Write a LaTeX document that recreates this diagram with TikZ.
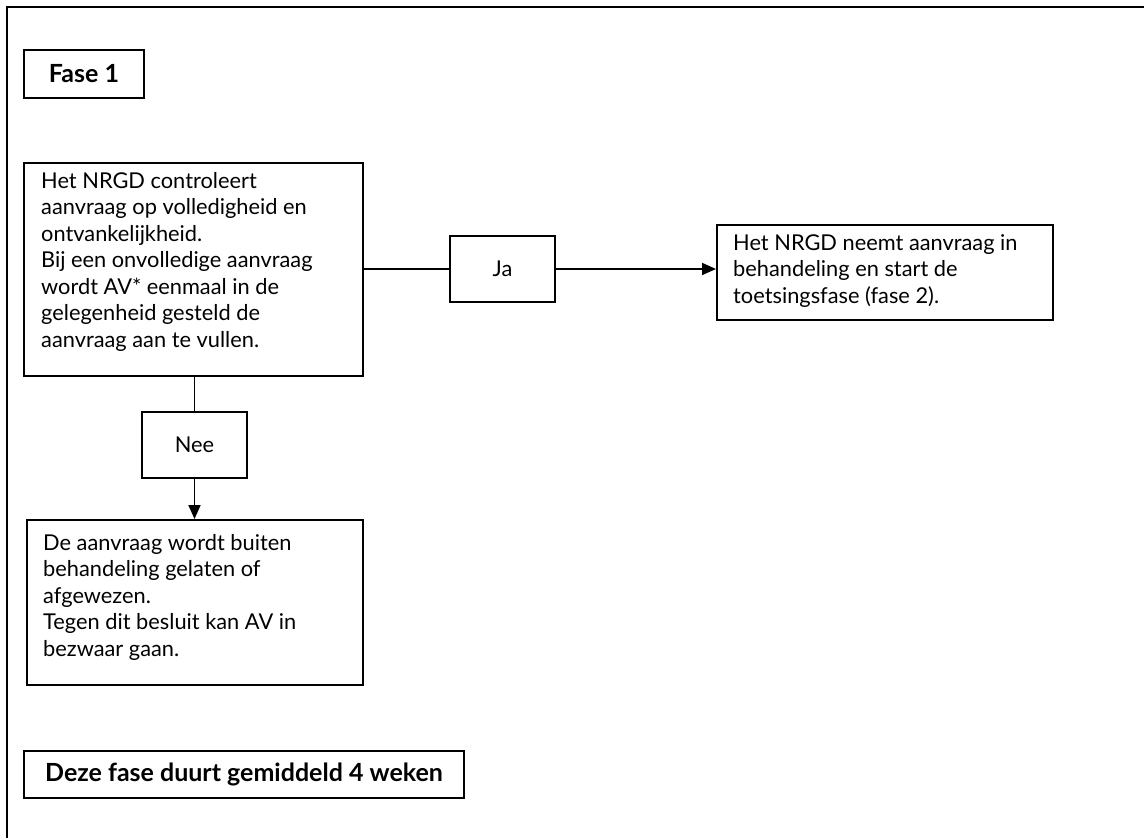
\documentclass[tikz,border=0pt]{standalone}
\usepackage{fontspec}
\setmainfont{Lato}
\usetikzlibrary{arrows.meta,calc}
\begin{document}
\begin{tikzpicture}[x=1pt,y=-1pt,
  box/.style={draw, line width=2pt, inner sep=0pt, rectangle},
  txt/.style={anchor=north west, align=left, inner sep=0pt, font=\fontsize{21.8}{26.5}\selectfont},
  lbl/.style={font=\fontsize{21.8}{26}\selectfont},
  bold/.style={font=\fontsize{25}{29}\selectfont\bfseries},
  conn/.style={line width=1.7pt},
  arr/.style={conn, -{Triangle[length=14pt,width=12pt]}}]
\useasboundingbox (0,0) rectangle (1144,838);
\coordinate (fbl) at (7,838);
\coordinate (ftl) at (7,7);
\coordinate (ftr) at (1144,7);
\draw[line width=2.5pt] (fbl) -- (ftl) -- (ftr);

\node[box, bold, minimum width=120, minimum height=48] (fase) at (84,74) {Fase 1};
\node[box, minimum width=339, minimum height=213] (A) at (193.5,269.5) {};
\node[box, lbl, minimum width=105, minimum height=66] (ja) at (502.5,269) {Ja};
\node[box, minimum width=336, minimum height=95] (B) at (885,272.5) {};
\node[box, lbl, minimum width=105, minimum height=66] (nee) at (194.5,445) {Nee};
\node[box, minimum width=336, minimum height=165] (C) at (195,602.5) {};
\node[box, bold, minimum width=440, minimum height=47] (deze) at (244,774.5) {Deze fase duurt gemiddeld 4 weken};

\node[txt] (At) at ($(A.north west)+(18,10)$) {Het NRGD controleert\\aanvraag op volledigheid en\\ontvankelijkheid.\\Bij een onvolledige aanvraag\\wordt AV* eenmaal in de\\gelegenheid gesteld de\\aanvraag aan te vullen.};
\node[txt] (Bt) at ($(B.north west)+(17,10)$) {Het NRGD neemt aanvraag in\\behandeling en start de\\toetsingsfase (fase 2).};
\node[txt] (Ct) at ($(C.north west)+(17,15)$) {De aanvraag wordt buiten\\behandeling gelaten of\\afgewezen.\\Tegen dit besluit kan AV in\\bezwaar gaan.};

\draw[conn] (A.east |- ja.west) -- (ja.west);
\draw[arr] (ja.east) -- (ja.east -| B.west);
\draw[conn] (nee.north |- A.south) -- (nee.north);
\draw[arr] (nee.south) -- (nee.south |- C.north);
\end{tikzpicture}
\end{document}
